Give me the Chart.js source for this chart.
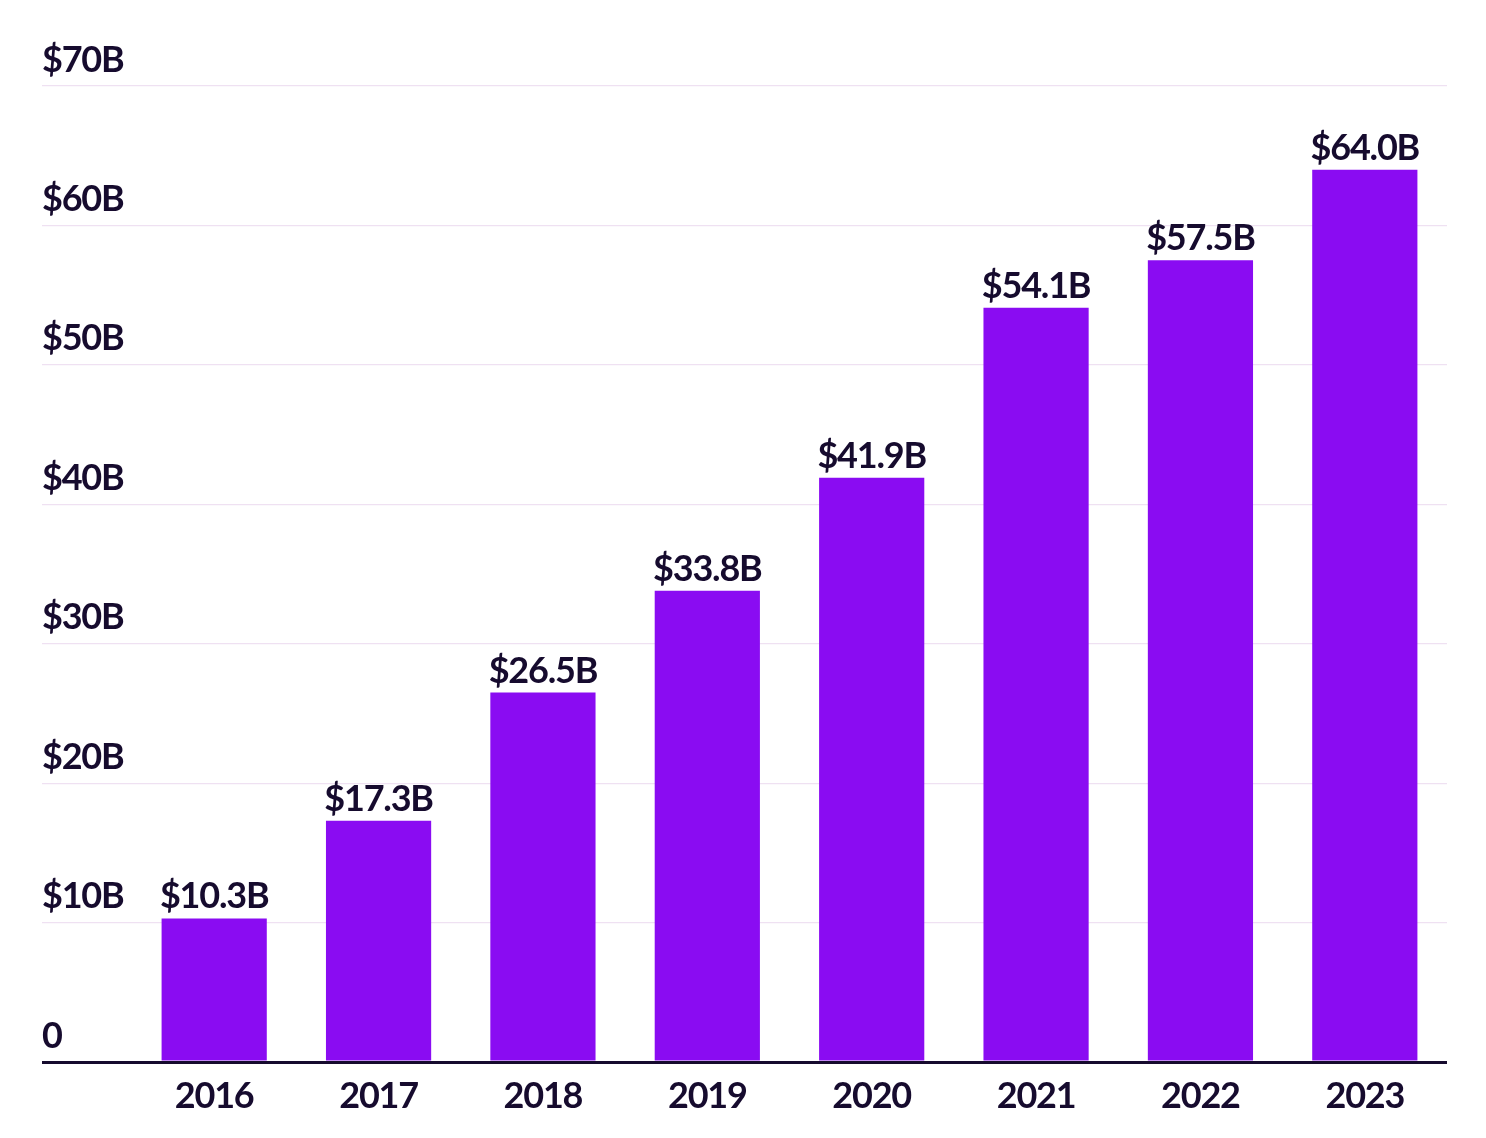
<!DOCTYPE html>
<html>
<head>
<meta charset="utf-8">
<script src="https://cdn.jsdelivr.net/npm/chart.js@4"></script>
<style>
  html, body { margin: 0; padding: 0; background: #fff; }
  #wrap { width: 1486px; height: 1138px; position: relative; }
</style>
</head>
<body>
<div id="wrap"><canvas id="revenueChart"></canvas></div>
<script>
const years = ["2016", "2017", "2018", "2019", "2020", "2021", "2022", "2023"];
const revenue = [10.3, 17.3, 26.5, 33.8, 41.9, 54.1, 57.5, 64.0];
const valueLabels = ["$10.3B", "$17.3B", "$26.5B", "$33.8B", "$41.9B", "$54.1B", "$57.5B", "$64.0B"];

const textColor = "#160b2e";
const barColor = "#8a0cf2";
const gridColor = "#efe1f2";
const fontFamily = "Lato, 'Noto Sans', sans-serif";
const fontSize = 36;

// tighter letters, the source font is narrower than Lato
const tightText = {
  id: "tightText",
  beforeDraw(chart) {
    chart.ctx.letterSpacing = "-1.2px";
  },
};

// draws the value above each bar
const barLabels = {
  id: "barLabels",
  afterDatasetsDraw(chart) {
    const ctx = chart.ctx;
    const meta = chart.getDatasetMeta(0);
    ctx.save();
    ctx.font = "700 " + fontSize + "px " + fontFamily;
    ctx.fillStyle = textColor;
    ctx.textAlign = "center";
    ctx.textBaseline = "alphabetic";
    meta.data.forEach((bar, i) => {
      ctx.fillText(valueLabels[i], bar.x, bar.y - 10);
    });
    ctx.restore();
  },
};

const ctx = document.getElementById("revenueChart").getContext("2d");

const chart = new Chart(ctx, {
  type: "bar",
  data: {
    labels: years,
    datasets: [
      {
        data: revenue,
        backgroundColor: barColor,
        borderWidth: 0,
        barPercentage: 0.64,
        categoryPercentage: 1,
      },
    ],
  },
  options: {
    responsive: true,
    maintainAspectRatio: false,
    animation: false,
    layout: { padding: { left: 42, right: 39, top: 86, bottom: 0 } },
    plugins: {
      legend: { display: false },
      tooltip: { enabled: false },
    },
    scales: {
      x: {
        grid: { display: false, drawTicks: false },
        border: { display: false },
        ticks: {
          color: textColor,
          font: { family: fontFamily, size: fontSize, weight: "700" },
          padding: 13,
        },
        afterFit: (scale) => { scale.height = 76; },
      },
      y: {
        min: 0,
        max: 70,
        border: { display: false },
        grid: {
          drawTicks: true,
          tickLength: 90,
          color: (c) => (c.tick && c.tick.value === 0 ? textColor : gridColor),
          lineWidth: (c) => (c.tick && c.tick.value === 0 ? 3 : 1.2),
        },
        ticks: {
          stepSize: 10,
          color: textColor,
          crossAlign: "far",
          labelOffset: -26,
          font: { family: fontFamily, size: fontSize, weight: "700" },
          callback: (v) => (v === 0 ? "0" : "$" + v + "B"),
        },
        afterFit: (scale) => { scale.width = 90; },
      },
    },
  },
  plugins: [tightText, barLabels],
});
</script>
</body>
</html>
